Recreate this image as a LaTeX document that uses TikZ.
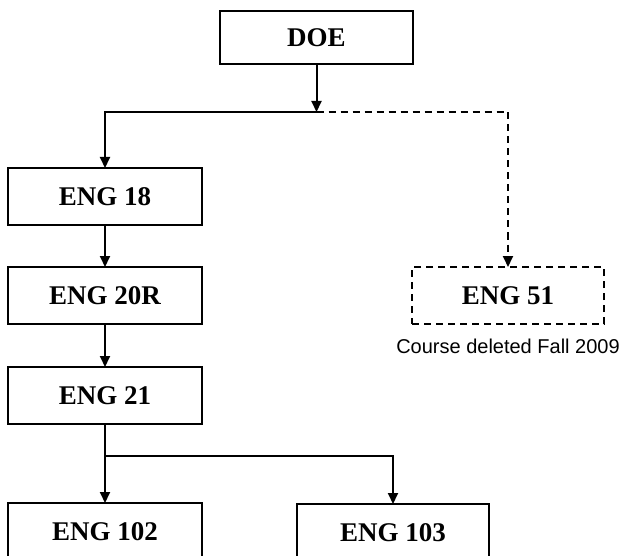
\documentclass[tikz,border=0pt]{standalone}
\usepackage{fontspec}
\setmainfont{Liberation Serif}
\newfontfamily\notefont{Liberation Sans}
\usetikzlibrary{arrows.meta}
\begin{document}
\begin{tikzpicture}[x=1pt,y=-1pt,
  box/.style={draw=black,line width=2pt,rectangle,minimum width=193pt,minimum height=57pt,inner sep=0pt,outer sep=0pt,font=\fontsize{27}{30}\selectfont\bfseries},
  dbox/.style={box,dash pattern=on 7pt off 5pt},
  conn/.style={line width=2pt,-{Triangle[length=11pt,width=10pt]}},
  dconn/.style={conn,dash pattern=on 7pt off 5pt},
  plain/.style={line width=2pt}]
\useasboundingbox (0,0) rectangle (629,556);
\node[box,minimum height=53pt] (doe) at (316.5,37.5) {DOE};
\node[box,minimum width=194pt] (e18) at (105,196.5) {ENG 18};
\node[box,minimum width=194pt] (e20) at (105,295.5) {ENG 20R};
\node[box,minimum width=194pt] (e21) at (105,395.5) {ENG 21};
\node[box,minimum width=194pt] (e102) at (105,531.5) {ENG 102};
\node[box,minimum width=192pt] (e103) at (393,532.5) {ENG 103};
\node[dbox,minimum width=192pt] (e51) at (508,295.5) {ENG 51};
\node[font=\notefont\fontsize{20}{24}\selectfont,inner sep=0pt] (note) at (508,346) {Course deleted Fall 2009};
\coordinate (j) at (316.5,112);
\coordinate (s) at (105,456);
\draw[conn] (doe) -- (j);
\draw[conn] (j) -| (e18);
\draw[dconn] (j) -| (e51);
\draw[conn] (e18) -- (e20);
\draw[conn] (e20) -- (e21);
\draw[plain] (e21) -- (s);
\draw[conn] (s) -- (e102);
\draw[conn] (s) -| (e103);
\end{tikzpicture}
\end{document}
